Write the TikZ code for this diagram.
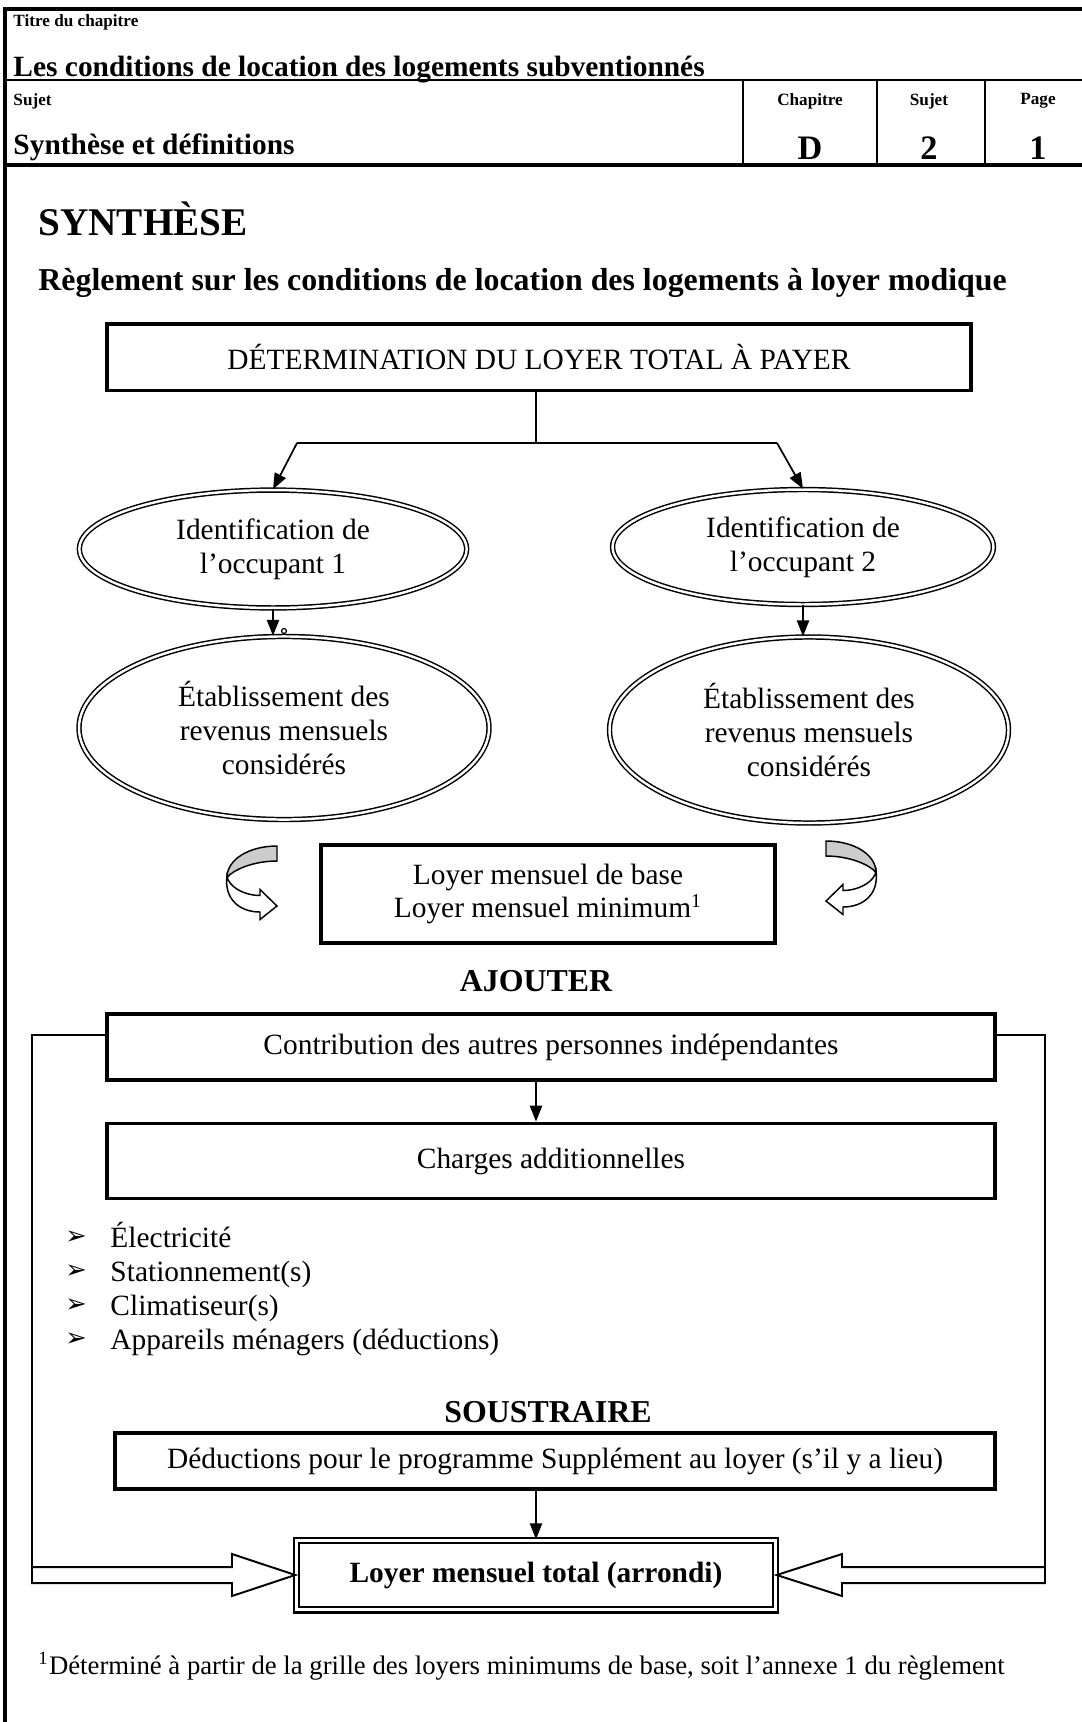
\documentclass[tikz,border=0pt]{standalone}
\usepackage{fontspec}
\setmainfont{Liberation Serif}
\newfontfamily\symfont{DejaVu Sans}
\usepackage{xcolor}
\usepackage{tikz}
\usetikzlibrary{arrows.meta,shapes.geometric,positioning}
\definecolor{ribbongray}{rgb}{0.8,0.8,0.8}

\begin{document}
\begin{tikzpicture}[x=0.408pt, y=-0.408pt, font=\fontsize{12}{13.8}\selectfont,
  box/.style={draw, line width=1.6pt, inner sep=0pt, align=center},
  oval/.style={ellipse, draw, double, line width=0.6pt, double distance=1pt, inner sep=0pt, align=center},
  arr/.style={line width=0.7pt, -{Triangle[length=6.5pt,width=5pt]}},
  link/.style={line width=0.6pt},
  hollow/.style={draw, line width=0.8pt, fill=white},
  tinyhead/.style={font=\bfseries\fontsize{7}{8}\selectfont},
  head/.style={font=\bfseries\fontsize{12}{14}\selectfont},
  pics/twist/.style={code={
    \filldraw[fill=ribbongray, line width=0.6pt] (0,0) .. controls (-28,0) and (-50,18) .. (-50,42) .. controls (-44,32) and (-24,20) .. (0,20) -- cycle;
    \filldraw[fill=white, line width=0.6pt] (-50,40) .. controls (-53,70) and (-38,88) .. (-17,88) -- (-17,98) -- (0,80) -- (-17,58) -- (-17,66) .. controls (-30,66) and (-44,58) .. (-49,45) -- cycle;
  }}]

\useasboundingbox (0,0) rectangle (1082,1722);

\draw[line width=1.3pt] (5,1722) -- (5,9) -- (1082,9);
\draw[line width=0.8pt] (5,80) -- (1082,80);
\draw[line width=1.6pt] (5,165) -- (1082,165);
\foreach \x in {743,877,985}
  \draw[line width=0.8pt] (\x,80) -- (\x,165);

\node (chaptitle) at (13,22) [tinyhead, anchor=west, inner sep=0pt]{Titre du chapitre};
\node (chapname) at (13,70) [head, anchor=west, inner sep=0pt]{Les conditions de location des logements subventionnés};
\node (subjlabel) at (13,101) [tinyhead, anchor=west, inner sep=0pt]{Sujet};
\node (chaplabel) at (810,101) [tinyhead]{Chapitre};
\node (numlabel) at (929,101) [tinyhead]{Sujet};
\node (pagelabel) at (1038,101) [tinyhead]{Page};
\node (subjname) at (13,147) [head, anchor=west, inner sep=0pt]{Synthèse et définitions};
\node (chapval) at (810,148) [font=\bfseries\fontsize{14}{16}\selectfont]{D};
\node (numval) at (929,148) [font=\bfseries\fontsize{14}{16}\selectfont]{2};
\node (pageval) at (1038,148) [font=\bfseries\fontsize{14}{16}\selectfont]{1};

\node (synth) at (38,219) [anchor=west, inner sep=0pt, font=\bfseries\fontsize{16}{18}\selectfont]{SYNTHÈSE};
\node (regl) at (38,283) [anchor=west, inner sep=0pt, font=\bfseries\fontsize{13}{15}\selectfont]{Règlement sur les conditions de location des logements à loyer modique};

\coordinate (mid) at (536,0);
\node (det) at (539,357) [box, minimum width=352.5pt, minimum height=27.3pt]{DÉTERMINATION DU LOYER TOTAL À PAYER};
\coordinate (split) at (536,443);
\coordinate (bl) at (297,443);
\coordinate (br) at (777,443);

\node (e1) at (273,549) [oval, minimum width=158pt, minimum height=48.1pt]{Identification de\\l’occupant 1};
\node (e2) at (284,728) [oval, minimum width=167.3pt, minimum height=74.7pt]{Établissement des\\revenus mensuels\\considérés};
\node (e3) at (803,547) [oval, minimum width=155.4pt, minimum height=46.9pt]{Identification de\\l’occupant 2};
\node (e4) at (809,730) [oval, minimum width=162.8pt, minimum height=75.9pt]{Établissement des\\revenus mensuels\\considérés};

\draw[link] (det.south -| mid) -- (split);
\draw[link] (bl) -- (br);
\draw[arr] (bl) -- (e1.north);
\draw[arr] (br) -- (e3.north);
\draw[arr] (e1.south) -- (e1.south |- e2.north);
\draw[arr] (e3.south) -- (e3.south |- e4.north);
\draw[line width=0.5pt] (284,631) circle (1pt);

\pic[yscale=0.75] (ltwist) at (277,846) {twist};
\pic[xscale=-1, yscale=0.75] (rtwist) at (826,841) {twist};

\node (base) at (548,894) [box, minimum width=185.6pt, minimum height=40pt]{Loyer mensuel de base\\Loyer mensuel minimum\textsuperscript{1}};

\node (add) at (536,981) [font=\bfseries\fontsize{13}{15}\selectfont]{AJOUTER};
\node (cont) at (551,1047) [box, minimum width=362.3pt, minimum height=26.9pt]{Contribution des autres personnes indépendantes};
\node (charges) at (551,1161) [box, minimum width=362.3pt, minimum height=30.6pt]{Charges additionnelles};
\draw[arr] (cont.south -| mid) -- (charges.north -| mid);

\foreach \txt [count=\i] in {Électricité, Stationnement(s), Climatiseur(s), Appareils ménagers (déductions)}{
  \node (bul\i) at (65,1204+34*\i) [anchor=west, inner sep=0pt, font=\symfont\fontsize{10.5}{12}\selectfont]{➢};
  \node (item\i) at (110,1206+34*\i) [anchor=west, inner sep=0pt, text height=8.5pt, text depth=2.5pt]{\txt};
}

\node (sub) at (548,1412) [font=\bfseries\fontsize{13}{15}\selectfont]{SOUSTRAIRE};
\node (deduc) at (555,1461) [box, minimum width=359pt, minimum height=22.8pt]{Déductions pour le programme Supplément au loyer (s’il y a lieu)};

\node (total) at (536,1575) [draw, double, line width=1pt, double distance=1.2pt, inner sep=0pt, minimum width=195.4pt, minimum height=28.2pt, font=\bfseries\fontsize{12}{14}\selectfont]{Loyer mensuel total (arrondi)};
\draw[arr] (deduc.south -| mid) -- (total.north -| mid);

\coordinate (lk) at (32,1035);
\coordinate (ltop) at (32,1567);
\coordinate (rk) at (1045,1035);
\coordinate (rtop) at (1045,1567);
\draw[link] (cont.west |- lk) -- (lk) -- (ltop);
\draw[link] (cont.east |- rk) -- (rk) -- (rtop);
\draw[hollow] (ltop) -- (232,1567) -- (232,1554) -- (total.west) -- (232,1596) -- (232,1583) -- (32,1583) -- cycle;
\draw[hollow] (rtop) -- (842,1567) -- (842,1554) -- (total.east) -- (842,1596) -- (842,1583) -- (1045,1583) -- cycle;

\node (note) at (38,1666) [anchor=west, inner sep=0pt, font=\fontsize{10.9}{12.5}\selectfont]{\textsuperscript{1}Déterminé à partir de la grille des loyers minimums de base, soit l’annexe 1 du règlement};

\end{tikzpicture}
\end{document}
